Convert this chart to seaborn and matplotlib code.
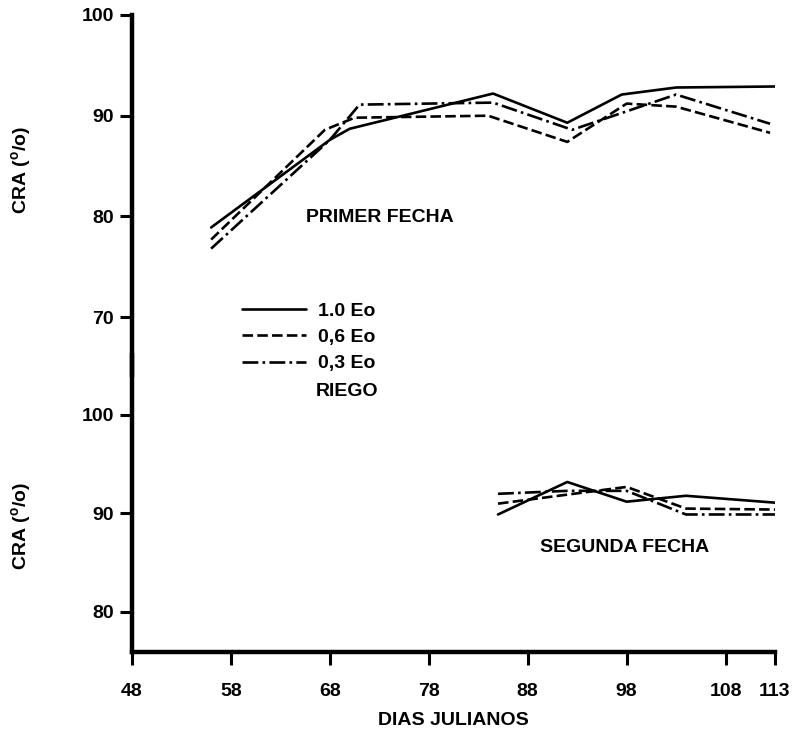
import matplotlib
matplotlib.use("Agg")
import matplotlib.pyplot as plt
import pandas as pd
import seaborn as sns

# Irrigation treatments (fraction of pan evaporation Eo)
riego = ["1.0 Eo", "0,6 Eo", "0,3 Eo"]

# First sowing date: relative water content (CRA, %) by Julian day
dias_p_10 = [56, 68, 70, 84.5, 92, 97.5, 103, 113]
cra_p_10 = [78.9, 87.6, 88.7, 92.2, 89.3, 92.1, 92.8, 92.9]
dias_p_06 = [56, 67.5, 70.5, 84, 92, 98, 103, 112.5]
cra_p_06 = [77.7, 88.6, 89.8, 90.0, 87.4, 91.2, 90.9, 88.3]
dias_p_03 = [56, 68, 71, 84.5, 92.5, 103, 112.5]
cra_p_03 = [76.8, 87.6, 91.1, 91.3, 88.6, 92.1, 89.2]

# Second sowing date
dias_s_10 = [85, 92, 98, 104, 113]
cra_s_10 = [89.9, 93.2, 91.2, 91.8, 91.1]
dias_s_06 = [85, 98, 104, 113]
cra_s_06 = [91.0, 92.7, 90.5, 90.4]
dias_s_03 = [85, 92, 98, 104, 113]
cra_s_03 = [92.0, 92.3, 92.3, 89.9, 89.9]

xticks = [48, 58, 68, 78, 88, 98, 108, 113]
yticks_top = [70, 80, 90, 100]
yticks_bot = [80, 90, 100]


def long_form(series):
    frames = []
    for label, dias, cra in series:
        frames.append(pd.DataFrame({"dia": dias, "cra": cra, "riego": label}))
    return pd.concat(frames, ignore_index=True)


df_primer = long_form([(riego[0], dias_p_10, cra_p_10),
                       (riego[1], dias_p_06, cra_p_06),
                       (riego[2], dias_p_03, cra_p_03)])
df_segunda = long_form([(riego[0], dias_s_10, cra_s_10),
                        (riego[1], dias_s_06, cra_s_06),
                        (riego[2], dias_s_03, cra_s_03)])

sns.set_theme(style="white")
plt.rcParams["font.family"] = ["Liberation Sans", "DejaVu Sans"]
plt.rcParams["font.weight"] = "bold"
plt.rcParams["axes.labelweight"] = "bold"
plt.rcParams["text.color"] = "black"
plt.rcParams["axes.labelcolor"] = "black"
plt.rcParams["xtick.color"] = "black"
plt.rcParams["ytick.color"] = "black"
plt.rcParams["mathtext.fontset"] = "custom"
plt.rcParams["mathtext.rm"] = "Liberation Sans:bold"

FS = 14
palette = {r: "black" for r in riego}
dashes = {riego[0]: "", riego[1]: (4.0, 1.6), riego[2]: (6.0, 1.6, 1.0, 1.6)}

fig = plt.figure(figsize=(7.94, 7.35), dpi=100)
# Upper panel: 100 at 15 px from the top, 10.07 px per unit, down to 375 px
ax_top = fig.add_axes([132 / 794, 1 - 375 / 735, 643 / 794, 360 / 735])
# Lower panel: 100 at 415 px, 9.85 px per unit, from 355 px to the x axis
ax_bot = fig.add_axes([132 / 794, 1 - 652 / 735, 643 / 794, 297 / 735])

for ax, df in ((ax_top, df_primer), (ax_bot, df_segunda)):
    sns.lineplot(data=df, x="dia", y="cra", hue="riego", style="riego",
                 hue_order=riego, style_order=riego, palette=palette,
                 dashes=dashes, estimator=None, sort=False, linewidth=1.9,
                 legend=False, ax=ax)
    ax.set_xlim(48, 113)
    ax.set_xlabel("")
    ax.set_ylabel("")
    ax.patch.set_alpha(0)
    for side in ("top", "right"):
        ax.spines[side].set_visible(False)
    ax.spines["left"].set_linewidth(3.2)
    ax.spines["left"].set_color("black")
    ax.spines["left"].set_capstyle("projecting")
    ax.tick_params(axis="y", left=True, direction="out", length=9,
                   width=2.2, pad=4, labelsize=FS, color="black")

ax_top.set_ylim(100 - 360 / 10.07, 100)
ax_top.set_yticks(yticks_top)
ax_top.set_yticklabels([str(v) for v in yticks_top])
ax_top.spines["bottom"].set_visible(False)
ax_top.set_xticks([])

ax_bot.set_ylim(100 - 237 / 9.85, 100 + 60 / 9.85)
ax_bot.set_yticks(yticks_bot)
ax_bot.set_yticklabels([str(v) for v in yticks_bot])
ax_bot.spines["bottom"].set_linewidth(3.2)
ax_bot.spines["bottom"].set_color("black")
ax_bot.spines["bottom"].set_capstyle("projecting")
ax_bot.set_xticks(xticks)
ax_bot.set_xticklabels([str(v) for v in xticks])
ax_bot.tick_params(axis="x", bottom=True, direction="out", length=9,
                   width=2.2, pad=13, labelsize=FS, color="black")
ax_bot.set_xlabel("DIAS JULIANOS", fontsize=FS, fontweight="bold",
                  labelpad=9)

ylab = r"CRA ($^{\mathrm{o}}$/o)"
fig.text(22 / 794, 1 - 170 / 735, ylab, rotation=90, ha="center",
         va="center", fontsize=FS)
fig.text(22 / 794, 1 - 526 / 735, ylab, rotation=90, ha="center",
         va="center", fontsize=FS)

fig.text(380 / 794, 1 - 217 / 735, "PRIMER FECHA", ha="center",
         va="center", fontsize=FS)
fig.text(625 / 794, 1 - 548 / 735, "SEGUNDA FECHA", ha="center",
         va="center", fontsize=FS)

handles = ax_top.get_lines()[:3]
fig.legend(handles, riego, loc="upper left",
           bbox_to_anchor=(242 / 794, 1 - 302 / 735), frameon=False,
           fontsize=FS, handlelength=3.3, handletextpad=0.6,
           labelspacing=0.45, borderpad=0, borderaxespad=0)
fig.text(316 / 794, 1 - 391 / 735, "RIEGO", ha="left", va="center",
         fontsize=FS)

fig.savefig("out.png", dpi=100)
